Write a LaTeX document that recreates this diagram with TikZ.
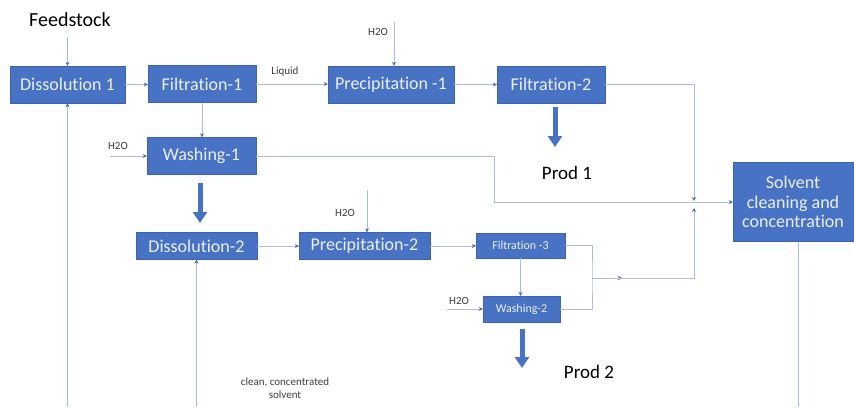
\documentclass[tikz,border=0pt]{standalone}
\usepackage{fontspec}
\setmainfont[Ligatures=NoCommon]{Carlito}
\usetikzlibrary{arrows.meta}
\definecolor{boxblue}{RGB}{72,114,196}
\definecolor{boxline}{RGB}{62,98,172}
\definecolor{flowline}{RGB}{170,188,228}
\definecolor{tipblue}{RGB}{68,104,190}
\definecolor{labelgray}{RGB}{60,60,60}
\definecolor{boxtext}{RGB}{236,240,250}
\begin{document}
\begin{tikzpicture}[x=1pt,y=-1pt,
  unit/.style={draw=boxline,fill=boxblue,text=boxtext,inner sep=0pt,align=center,font=\fontsize{18}{19.5}\selectfont},
  smallunit/.style={unit,font=\fontsize{12}{14}\selectfont},
  flow/.style={draw=flowline,line width=0.9pt,-{Stealth[length=4pt,width=4pt,color=tipblue]}},
  pipe/.style={draw=flowline,line width=0.9pt},
  fat/.style={draw=boxblue,line width=5pt,-{Triangle[length=11pt,width=14pt]}},
  tag/.style={text=labelgray,inner sep=0pt,align=center,font=\fontsize{11}{13}\selectfont},
  big/.style={inner sep=0pt,font=\fontsize{19}{22}\selectfont}]
\useasboundingbox (0,0) rectangle (854,407);
\node[unit,minimum width=115pt,minimum height=37pt] (dis1) at (67.5,84.5) {Dissolution 1};
\node[unit,minimum width=108pt,minimum height=37pt] (fil1) at (202,84) {Filtration-1};
\node[unit,minimum width=126pt,minimum height=37pt] (pre1) at (391,84.5) {Precipitation -1};
\node[unit,minimum width=108pt,minimum height=37pt] (fil2) at (551,84.5) {Filtration-2};
\node[unit,minimum width=109pt,minimum height=37pt] (was1) at (201.5,156) {Washing-1};
\node[unit,minimum width=121pt,minimum height=27pt] (dis2) at (196.5,246) {Dissolution-2};
\node[unit,minimum width=131pt,minimum height=27pt] (pre2) at (364.5,246) {Precipitation-2};
\node[smallunit,minimum width=89pt,minimum height=25pt] (fil3) at (520.5,245.5) {Filtration -3};
\node[smallunit,minimum width=77pt,minimum height=26pt] (was2) at (521.5,309) {Washing-2};
\node[unit,minimum width=120pt,minimum height=79pt] (solv) at (793,202) {Solvent\\cleaning and\\concentration};

\node[big,font=\fontsize{20}{22}\selectfont] (feed) at (70,20) {Feedstock};
\node[big] (prod1) at (567,173) {Prod 1};
\node[big] (prod2) at (589,372) {Prod 2};
\node[tag] (liq) at (285,72) {Liquid};
\node[tag] (h2oa) at (378,32) {H2O};
\node[tag] (h2ob) at (118,146) {H2O};
\node[tag] (h2oc) at (345,213) {H2O};
\node[tag] (h2od) at (459,301) {H2O};
\node[tag] (clean) at (285,388) {clean, concentrated\\solvent};

\coordinate (s0) at (67.5,37);
\coordinate (w1) at (394,22);
\coordinate (w2) at (110,156);
\coordinate (w3) at (367,190);
\coordinate (w4) at (447,309);
\coordinate (k1) at (494,156);
\coordinate (t2) at (694,201);
\coordinate (t3) at (694,208);
\coordinate (j3) at (592,278);
\coordinate (m3) at (622,278);
\coordinate (r1) at (67.5,407);
\coordinate (r2) at (196.5,407);
\coordinate (r3) at (798,407);
\coordinate (a1) at (200,183);
\coordinate (a1e) at (200,223);
\coordinate (a2) at (555,107);
\coordinate (a2e) at (555,147);
\coordinate (a3) at (522,329);
\coordinate (a3e) at (522,368);

\draw[flow] (s0) -- (dis1.north);
\draw[flow] (dis1.east) -- (dis1.east -| fil1.west);
\draw[flow] (fil1.east) -- (fil1.east -| pre1.west);
\draw[flow] (w1) -- (w1 |- pre1.north);
\draw[flow] (pre1.east) -- (pre1.east -| fil2.west);
\draw[flow] (fil2.east) -| (t2);
\draw[flow] (fil1.south) -- (fil1.south |- was1.north);
\draw[flow] (w2) -- (was1.west);
\draw[flow] (was1.east) -- (k1) |- (solv.west);
\draw[flow] (dis2.east) -- (pre2.west);
\draw[flow] (w3) -- (w3 |- pre2.north);
\draw[flow] (pre2.east) -- (pre2.east -| fil3.west);
\draw[flow] (fil3.south) -- (fil3.south |- was2.north);
\draw[flow] (w4) -- (was2.west);
\draw[pipe] (fil3.east) -| (j3) |- (was2.east);
\draw[flow] (j3) -- (m3);
\draw[flow] (j3) -| (t3);
\draw[flow] (r1) -- (dis1.south);
\draw[flow] (r2) -- (dis2.south);
\draw[pipe] (solv.south -| r3) -- (r3);

\draw[fat] (a1) -- (a1e);
\draw[fat] (a2) -- (a2e);
\draw[fat] (a3) -- (a3e);
\end{tikzpicture}
\end{document}
